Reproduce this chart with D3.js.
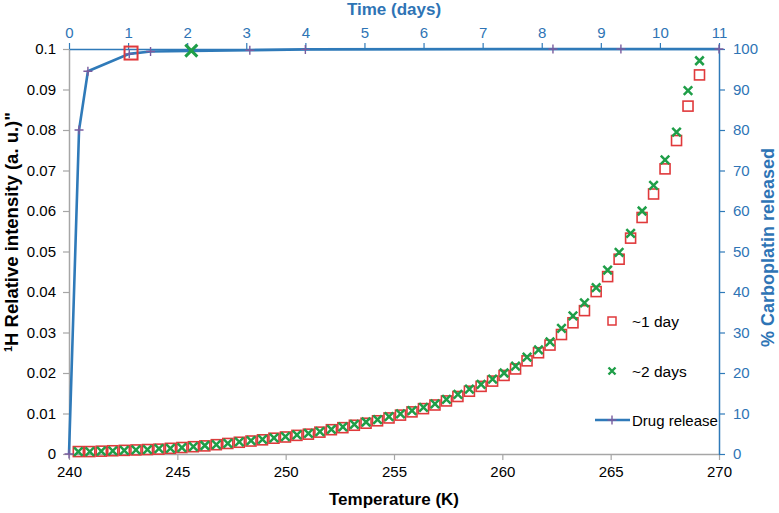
<!DOCTYPE html>
<html><head><meta charset="utf-8">
<script src="https://cdn.jsdelivr.net/npm/d3@7/dist/d3.min.js"></script>
<style>body{margin:0;background:#fff}svg{display:block;font-family:"Liberation Sans",Arial,sans-serif}</style>
</head><body><svg id="c" width="779" height="513"></svg>
<script>
// Temperatures (K) of the NMR points
const temps = [240.43,240.96,241.49,242.02,242.55,243.09,243.62,244.15,244.68,245.21,
245.74,246.27,246.80,247.33,247.86,248.40,248.93,249.46,249.99,250.52,
251.05,251.58,252.11,252.64,253.17,253.71,254.24,254.77,255.30,255.83,
256.36,256.89,257.42,257.95,258.48,259.02,259.55,260.08,260.61,261.14,
261.67,262.20,262.73,263.26,263.79,264.33,264.86,265.39,265.92,266.45,
266.98,267.51,268.04,268.57,269.10];
// ~1 day series (red squares)
const day1 = [0.0006,0.0006,0.0007,0.0008,0.0009,0.0010,0.0011,0.0012,0.0014,0.0016,
0.0018,0.0020,0.0023,0.0026,0.0029,0.0032,0.0035,0.0039,0.0042,0.0046,
0.0049,0.0054,0.0060,0.0065,0.0071,0.0076,0.0082,0.0089,0.0096,0.0104,
0.0112,0.0121,0.0131,0.0142,0.0155,0.0167,0.0180,0.0194,0.0210,0.0230,
0.0250,0.0269,0.0295,0.0324,0.0354,0.0401,0.0438,0.0481,0.0533,0.0584,
0.0642,0.0704,0.0774,0.0859,0.0936];
// ~2 days series (green crosses)
const day2 = [0.0006,0.0006,0.0007,0.0008,0.0009,0.0010,0.0011,0.0013,0.0014,0.0016,
0.0018,0.0021,0.0023,0.0026,0.0030,0.0033,0.0036,0.0040,0.0043,0.0047,
0.0051,0.0055,0.0061,0.0067,0.0073,0.0079,0.0085,0.0092,0.0099,0.0107,
0.0115,0.0124,0.0135,0.0147,0.0160,0.0172,0.0185,0.0200,0.0217,0.0239,
0.0257,0.0277,0.0310,0.0341,0.0373,0.0411,0.0454,0.0498,0.0545,0.0600,
0.0663,0.0726,0.0795,0.0897,0.0971];
// Drug release (days, %)
const relTime = [0,0.17,0.32,1.02,1.38,3.06,4.0,8.19,9.34,11];
const relPct  = [0,80,94.5,98.8,99.4,99.7,99.9,100,100,100];
// Highlighted sampling times on the release curve
const sampleTime = [1.05,2.07];
const samplePct = [99.0,99.6];
const sampleNames = ["~1 day","~2 days"];
// Ticks
const tempTicks = [240,245,250,255,260,265,270];
const intTicks = [0,0.01,0.02,0.03,0.04,0.05,0.06,0.07,0.08,0.09,0.1];
const dayTicks = [0,1,2,3,4,5,6,7,8,9,10,11];
const pctTicks = [0,10,20,30,40,50,60,70,80,90,100];

const W=779,H=513, L=69,R=719,T=49,B=454;
const BLUE="#2f7ab9", TXTBLUE="#2e74b5", RED="#e0393b", GREEN="#1f9e48", PURPLE="#7a5c9e", GRAY="#a6a6a6";
const svg=d3.select("#c");
const x=d3.scaleLinear().domain([240,270]).range([L,R]);
const y=d3.scaleLinear().domain([0,0.1]).range([B,T]);
const xt=d3.scaleLinear().domain([0,11]).range([L,R]);
const yr=d3.scaleLinear().domain([0,100]).range([B,T]);

function styleAxis(g,col,txtcol){
  g.selectAll("path").attr("stroke",col).attr("stroke-width",1.5);
  g.selectAll("line").attr("stroke",col).attr("stroke-width",1.2);
  g.selectAll("text").attr("fill",txtcol).style("font-size","15px").style("font-family","Liberation Sans, Arial, sans-serif");
}
const fmtY=d=>d===0?"0":String(+d.toFixed(2));
const gl=svg.append("g").attr("transform",`translate(${L},0)`).call(d3.axisLeft(y).tickValues(intTicks).tickFormat(fmtY).tickSize(6).tickSizeOuter(0).tickPadding(7));
styleAxis(gl,GRAY,"#000");
const gb=svg.append("g").attr("transform",`translate(0,${B})`).call(d3.axisBottom(x).tickValues(tempTicks).tickFormat(d3.format("d")).tickSize(6).tickSizeOuter(0).tickPadding(6));
styleAxis(gb,GRAY,"#000");
const gt=svg.append("g").attr("transform",`translate(0,${T})`).call(d3.axisTop(xt).tickValues(dayTicks).tickFormat(d3.format("d")).tickSize(6).tickSizeOuter(0).tickPadding(5));
styleAxis(gt,BLUE,TXTBLUE);
const gr=svg.append("g").attr("transform",`translate(${R},0)`).call(d3.axisRight(yr).tickValues(pctTicks).tickFormat(d3.format("d")).tickSize(6).tickSizeOuter(0).tickPadding(8));
styleAxis(gr,BLUE,TXTBLUE);

// axis titles
svg.append("text").attr("x",(L+R)/2).attr("y",505).attr("text-anchor","middle").attr("font-weight","bold").attr("font-size",17).text("Temperature (K)");
svg.append("text").attr("x",(L+R)/2).attr("y",15).attr("text-anchor","middle").attr("font-weight","bold").attr("font-size",17).attr("fill",TXTBLUE).text("Time (days)");
const lt=svg.append("text").attr("transform",`translate(18,352) rotate(-90)`).attr("text-anchor","start").attr("font-weight","bold").attr("font-size",18.5);
lt.append("tspan").attr("font-size",11).attr("dy",-6).text("1");
lt.append("tspan").attr("dy",6).text("H Relative intensity (a. u.)\"");
svg.append("text").attr("transform",`translate(774,347) rotate(-90)`).attr("text-anchor","start").attr("font-weight","bold").attr("font-size",18).attr("fill",TXTBLUE).text("% Carboplatin released");

// markers
function square(g,cx,cy,s,sw){g.append("rect").attr("x",cx-s/2).attr("y",cy-s/2).attr("width",s).attr("height",s).attr("fill","none").attr("stroke",RED).attr("stroke-width",sw);}
function cross(g,cx,cy,s,sw){g.append("path").attr("d",`M${cx-s/2},${cy-s/2}L${cx+s/2},${cy+s/2}M${cx-s/2},${cy+s/2}L${cx+s/2},${cy-s/2}`).attr("stroke",GREEN).attr("stroke-width",sw).attr("fill","none");}
function plus(g,cx,cy,s){g.append("path").attr("d",`M${cx-s/2},${cy}L${cx+s/2},${cy}M${cx},${cy-s/2}L${cx},${cy+s/2}`).attr("stroke",PURPLE).attr("stroke-width",1.4).attr("fill","none");}

const gs=svg.append("g");
temps.forEach((t,i)=>square(gs,x(t),y(day1[i]),10,1.6));
temps.forEach((t,i)=>cross(gs,x(t),y(day2[i]),8.5,2.5));

// drug release line
const rel=relTime.map((t,i)=>[t,relPct[i]]);
svg.append("path").datum(rel).attr("fill","none").attr("stroke",BLUE).attr("stroke-width",2.6)
  .attr("d",d3.line().x(d=>xt(d[0])).y(d=>yr(d[1])));
const gp=svg.append("g");
square(gp,xt(sampleTime[0]),yr(samplePct[0]),13,2);
cross(gp,xt(sampleTime[1]),yr(samplePct[1]),12,3);
rel.forEach(d=>plus(gp,xt(d[0]),yr(d[1]),9));

// legend
const lg=svg.append("g");
square(lg,612,321,8,1.5);
lg.append("text").attr("x",632).attr("y",327).attr("font-size",15.5).text(sampleNames[0]);
cross(lg,612,371,7,2.4);
lg.append("text").attr("x",632).attr("y",377).attr("font-size",15.5).text(sampleNames[1]);
lg.append("line").attr("x1",595).attr("x2",630).attr("y1",420).attr("y2",420).attr("stroke",BLUE).attr("stroke-width",2.6);
plus(lg,612,420,9);
lg.append("text").attr("x",632).attr("y",426).attr("font-size",15).text("Drug release");
</script></body></html>
